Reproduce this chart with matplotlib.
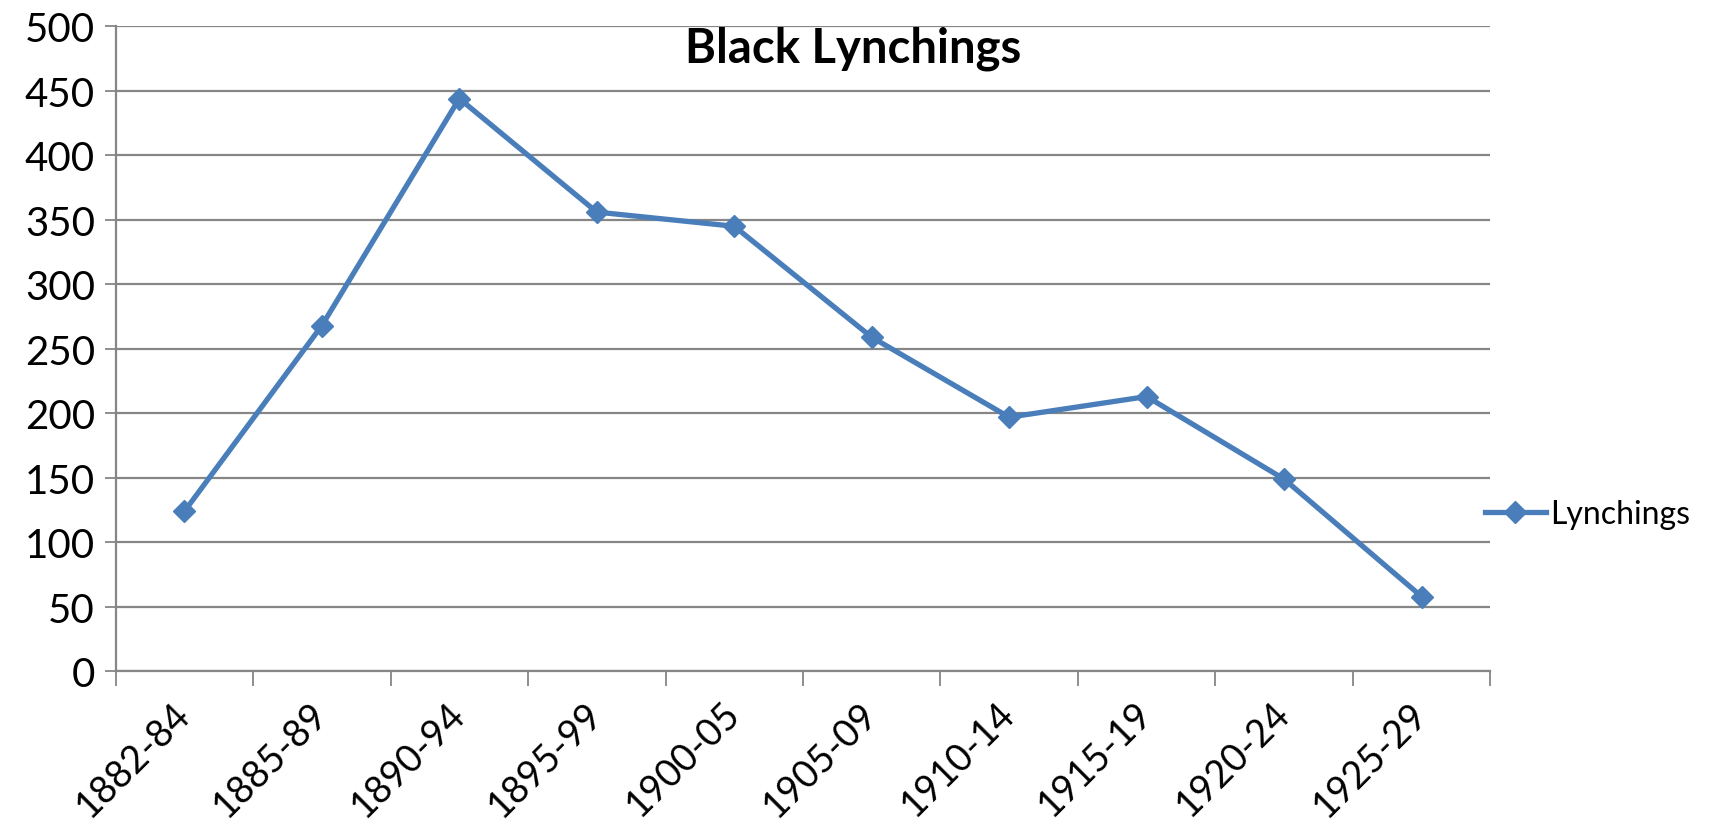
import matplotlib.pyplot as plt
from matplotlib.ticker import FixedLocator, NullFormatter
from matplotlib.lines import Line2D

periods = ["1882-84", "1885-89", "1890-94", "1895-99", "1900-05",
           "1905-09", "1910-14", "1915-19", "1920-24", "1925-29"]
lynchings = [124, 268, 444, 356, 345, 259, 197, 213, 149, 58]
yticks = [0, 50, 100, 150, 200, 250, 300, 350, 400, 450, 500]

blue = "#4A7EBB"
grey = "#868686"
font = ["Lato", "DejaVu Sans"]

fig = plt.figure(figsize=(17.11, 8.28), dpi=100)
ax = fig.add_axes([0.0676, 0.188, 0.8034, 0.779])

xs = [i + 0.5 for i in range(len(periods))]
ax.plot(xs, lynchings, color=blue, linewidth=3.8, marker="D", markersize=11,
        markerfacecolor=blue, markeredgecolor=blue, zorder=3)

ax.set_xlim(0, len(periods))
ax.set_ylim(0, 500)

# y grid + labels
ax.set_yticks(yticks)
ax.set_yticklabels([str(v) for v in yticks], fontsize=29, family=font)
ax.yaxis.grid(True, color=grey, linewidth=1.6)
ax.tick_params(axis="y", length=8, width=1.3, color=grey, pad=7)

# category boundaries get the tick marks, labels sit at the centres
ax.xaxis.set_major_locator(FixedLocator(range(len(periods) + 1)))
ax.xaxis.set_major_formatter(NullFormatter())
ax.xaxis.set_minor_locator(FixedLocator(xs))
ax.set_xticklabels(periods, minor=True, fontsize=27, family=font,
                   rotation=45, ha="right", va="center", rotation_mode="anchor")
ax.tick_params(axis="x", which="major", length=11, width=1.3, color=grey,
               direction="out")
ax.tick_params(axis="x", which="minor", length=0, pad=26)

for side in ["top", "right"]:
    ax.spines[side].set_visible(False)
for side in ["left", "bottom"]:
    ax.spines[side].set_color(grey)
    ax.spines[side].set_linewidth(1.6)
ax.set_axisbelow(True)

fig.text(0.4985, 0.941, "Black Lynchings", ha="center", va="center",
         fontsize=34, fontweight="bold", family=font)

handle = Line2D([], [], color=blue, linewidth=3.8, marker="D", markersize=11)
fig.legend([handle], ["Lynchings"], loc="center left",
           bbox_to_anchor=(0.851, 0.378), frameon=False,
           prop={"family": font, "size": 23}, handlelength=1.9,
           handletextpad=0.15)

fig.savefig("out.png", dpi=100)
